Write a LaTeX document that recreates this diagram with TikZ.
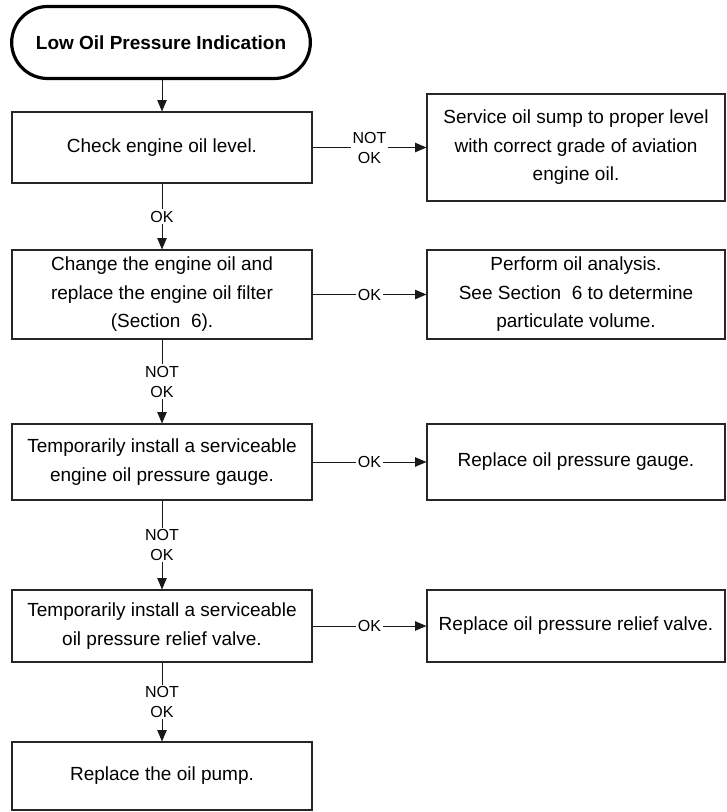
\documentclass[tikz,border=0pt]{standalone}
\usepackage{fontspec}
\setmainfont{Liberation Sans}
\usetikzlibrary{arrows.meta}
\newcommand{\mainfnt}{\fontsize{14.25}{21.4}\selectfont}
\newcommand{\lblfnt}{\fontsize{12}{15}\selectfont}
\begin{document}
\begin{tikzpicture}[x=0.75pt,y=-0.75pt,
  stepbox/.style={draw=black!85, line width=0.8pt, minimum width=225pt, align=center, font=\mainfnt, inner sep=0pt},
  rbox/.style={stepbox, minimum width=223.5pt},
  term/.style={draw=black, line width=2.4pt, minimum width=224pt, minimum height=54pt, rounded corners=27pt, font=\mainfnt\bfseries, inner sep=0pt},
  conn/.style={-{Triangle[length=8.5pt,width=7pt]}, line width=0.75pt, draw=black!90},
  lbl/.style={fill=white, inner sep=1.2pt, font=\lblfnt, align=center}]
\useasboundingbox[fill=white] (0,0) rectangle (726,812);

\node[term] (start) at (161,42.5) {Low Oil Pressure Indication};

\node[stepbox, minimum height=53.25pt] (b1) at (162,147.5) {Check engine oil level.};
\node[rbox, minimum height=80.25pt] (r1) at (576,147.5) {Service oil sump to proper level\\with correct grade of aviation\\engine oil.};

\node[stepbox, minimum height=66.75pt] (b2) at (162,294.5) {Change the engine oil and\\replace the engine oil filter\\(Section\ \ 6).};
\node[rbox, minimum height=66.75pt] (r2) at (576,294.5) {Perform oil analysis.\\See Section\ \ 6 to determine\\particulate volume.};

\node[stepbox, minimum height=57pt] (b3) at (162,462) {Temporarily install a serviceable\\engine oil pressure gauge.};
\node[rbox, minimum height=57pt] (r3) at (576,462) {Replace oil pressure gauge.};

\node[stepbox, minimum height=54pt] (b4) at (162,626) {Temporarily install a serviceable\\oil pressure relief valve.};
\node[rbox, minimum height=54pt] (r4) at (576,626) {Replace oil pressure relief valve.};

\node[stepbox, minimum height=51pt] (b5) at (162,776) {Replace the oil pump.};

\draw[conn] (start.south -| b1.north) -- (b1.north);
\draw[conn] (b1.east) -- node[lbl] {NOT\\OK} (b1.east -| r1.west);
\draw[conn] (b1.south) -- node[lbl] {OK} (b2.north);
\draw[conn] (b2.east) -- node[lbl] {OK} (r2.west);
\draw[conn] (b2.south) -- node[lbl] {NOT\\OK} (b3.north);
\draw[conn] (b3.east) -- node[lbl] {OK} (r3.west);
\draw[conn] (b3.south) -- node[lbl] {NOT\\OK} (b4.north);
\draw[conn] (b4.east) -- node[lbl] {OK} (r4.west);
\draw[conn] (b4.south) -- node[lbl] {NOT\\OK} (b5.north);
\end{tikzpicture}
\end{document}
